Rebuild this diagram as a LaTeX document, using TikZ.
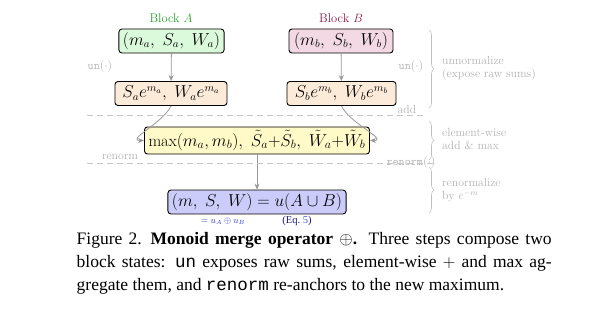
\documentclass[tikz,border=0pt]{standalone}
\usepackage{fontspec}
\newfontfamily\capfont{Liberation Serif}
\newfontfamily\capmono{Liberation Mono}
\usetikzlibrary{arrows.meta,decorations.pathreplacing}
\definecolor{BlockAClr}{rgb}{0.16,0.63,0.16}
\definecolor{BlockBClr}{rgb}{0.55,0.1,0.3}
\definecolor{AFillClr}{rgb}{0.86,0.98,0.86}
\definecolor{BFillClr}{rgb}{0.95,0.85,0.89}
\definecolor{ExpClr}{rgb}{0.99,0.92,0.85}
\definecolor{MrgClr}{rgb}{1,0.98,0.78}
\definecolor{OutClr}{rgb}{0.8,0.8,0.98}
\definecolor{EqClr}{rgb}{0.2,0.2,0.8}
\definecolor{RefClr}{rgb}{0.1,0.1,0.5}
\definecolor{LinkClr}{rgb}{0.25,0.4,0.85}

\begin{document}
\begin{tikzpicture}[x=1pt,y=1pt,
  box/.style={draw=black,line width=0.9pt,rounded corners=3pt,minimum height=24pt,
    inner xsep=4pt,font=\fontsize{16}{19}\selectfont},
  flow/.style={draw=gray!80,line width=0.8pt,-{Stealth[length=6pt,width=5pt]}},
  note/.style={text=gray!60,font=\fontsize{11.8}{13}\selectfont,align=left,inner sep=1pt},
  sep/.style={draw=gray!45,line width=0.7pt,dash pattern=on 6pt off 4pt},
  brc/.style={draw=gray!50,line width=0.6pt,decorate,decoration={brace,amplitude=5pt}}]
\useasboundingbox (0,0) rectangle (605,-312);

\node[text=BlockAClr,font=\fontsize{12.5}{14}\selectfont] (lblA) at (171,-18) {Block $A$};
\node[text=BlockBClr,font=\fontsize{12.5}{14}\selectfont] (lblB) at (341,-18) {Block $B$};

\node[box,fill=AFillClr,minimum width=103pt] (blkA) at (171.5,-41) {$(m_a,\ S_a,\ W_a)$};
\node[box,fill=BFillClr,minimum width=104pt] (blkB) at (341,-41) {$(m_b,\ S_b,\ W_b)$};
\node[box,fill=ExpClr,minimum width=112pt] (expA) at (171,-93.5) {$S_a e^{m_a},\ W_a e^{m_a}$};
\node[box,fill=ExpClr,minimum width=109pt] (expB) at (341.5,-93.5) {$S_b e^{m_b},\ W_b e^{m_b}$};
\node[box,fill=MrgClr,minimum height=27pt,minimum width=220pt,font=\fontsize{16.5}{19}\selectfont]
  (merge) at (257,-140.5)
  {$\max(m_a,m_b),\ \tilde S_a{+}\tilde S_b,\ \tilde W_a{+}\tilde W_b$};
\node[box,fill=OutClr,minimum height=22pt,minimum width=168pt] (out) at (257,-202)
  {$(m,\ S,\ W) = u(A\cup B)$};

\node[text=EqClr,font=\fontsize{9}{10}\selectfont] (eqU) at (223,-221) {$= u_A \oplus u_B$};
\node[font=\capfont\fontsize{10.5}{12}\selectfont] (eqRef) at (297,-221)
  {\textcolor{RefClr}{(Eq.~}\textcolor{LinkClr}{5}\textcolor{RefClr}{)}};

\draw[flow] (blkA) -- (expA);
\draw[flow] (blkB) -- (expB);
\draw[flow] (expA.south) to[out=-115,in=180,looseness=1.1] (merge.west);
\draw[flow] (expB.south) to[out=-65,in=0,looseness=1.1] (merge.east);
\draw[flow] (merge) -- (out);

\node[note] (unL) at (100,-67) {\texttt{un}$(\cdot)$};
\node[note] (unR) at (411,-67) {\texttt{un}$(\cdot)$};
\node[note] (addR) at (407,-109.5) {add};
\node[note] (rnL) at (120,-157) {renorm};
\node[note] (rnR) at (411,-163) {\texttt{renorm}$(\cdot)$};

\coordinate (sepAL) at (87,-115.5);
\coordinate (sepAR) at (427,-115.5);
\coordinate (sepBL) at (87,-163);
\coordinate (sepBR) at (437,-163);
\draw[sep] (sepAL) -- (sepAR);
\draw[sep] (sepBL) -- (sepBR);

\coordinate (brAt) at (429,-30);
\coordinate (brAb) at (429,-108);
\coordinate (brBt) at (429,-121);
\coordinate (brBb) at (429,-160);
\coordinate (brCt) at (429,-167);
\coordinate (brCb) at (429,-213);
\draw[brc] (brAt) -- (brAb);
\draw[brc] (brBt) -- (brBb);
\draw[brc] (brCt) -- (brCb);
\node[note,anchor=west] (txtA) at (441,-68) {unnormalize\\(expose raw sums)};
\node[note,anchor=west] (txtB) at (441,-139.5) {element-wise\\add \& max};
\node[note,anchor=west] (txtC) at (441,-190) {renormalize\\by $e^{-m}$};

\node[anchor=north west,inner sep=0pt,text width=475pt,align=justify,
  font=\capfont\fontsize{17.5}{23}\selectfont] (cap) at (76.5,-232.5)
  {Figure 2.\enspace\textbf{Monoid merge operator $\oplus$.} Three steps compose two\linebreak
  block states: {\capmono un} exposes raw sums, element-wise $+$ and max ag-\linebreak
  gregate them, and {\capmono renorm} re-anchors to the new maximum.};
\end{tikzpicture}
\end{document}
